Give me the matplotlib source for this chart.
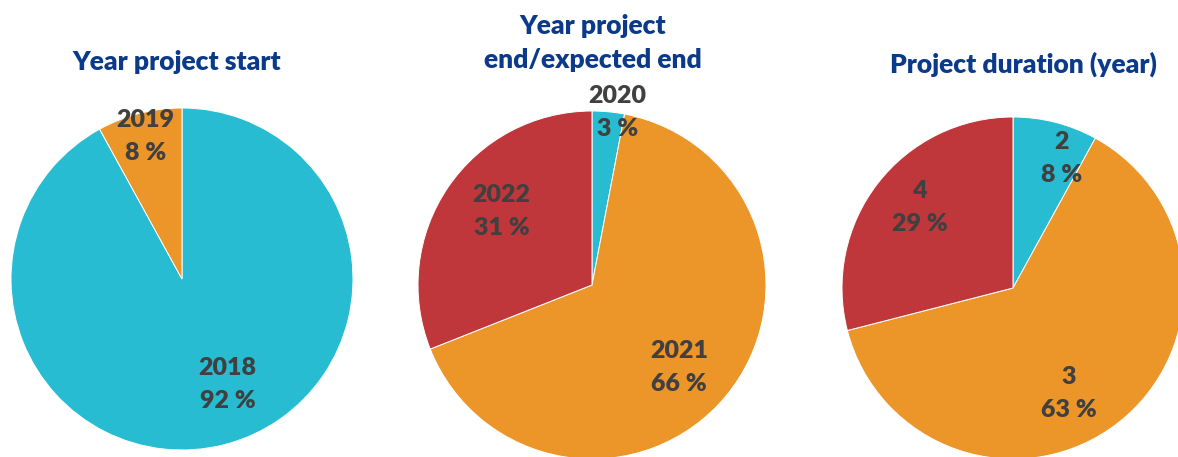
import numpy as np
import matplotlib.pyplot as plt

# data
start_years = ['2018', '2019']
start_share = [92, 8]

end_years = ['2020', '2021', '2022']
end_share = [3, 66, 31]

durations = ['2', '3', '4']
duration_share = [8, 63, 29]

titles = ['Year project start', 'Year project\nend/expected end', 'Project duration (year)']

CYAN = '#27BCD1'
ORANGE = '#EC9528'
RED = '#BF373B'
TITLE_BLUE = '#0B3A8B'
LABEL_GREY = '#404040'

W, H = 1178, 457
fig = plt.figure(figsize=(W / 100, H / 100), dpi=100)
ax = fig.add_axes([0, 0, 1, 1])

plt.rcParams['font.family'] = ['Lato', 'DejaVu Sans']

# (values, labels, colours, centre px, radius px, label distance, angle nudge, title pos)
pies = [
    (start_share, start_years, [CYAN, ORANGE], (182, H - 279), 171,
     [0.67, 0.86], [9, 0], (177, H - 62)),
    (end_share, end_years, [CYAN, ORANGE, RED], (592, H - 285), 174,
     [1.0, 0.69, 0.67], [-3, -4, -5], (593, H - 43)),
    (duration_share, durations, [CYAN, ORANGE, RED], (1013, H - 288), 171,
     [0.81, 0.70, 0.72], [-6, -10, -3], (1023, H - 64)),
]

for (vals, labs, cols, centre, radius, dists, nudges, tpos), title in zip(pies, titles):
    wedges, _ = ax.pie(vals, colors=cols, startangle=90, counterclock=False,
                       center=centre, radius=radius,
                       wedgeprops=dict(edgecolor='white', linewidth=0.7))
    for w, lab, v, d, n in zip(wedges, labs, vals, dists, nudges):
        mid = np.deg2rad((w.theta1 + w.theta2) / 2 + n)
        x = centre[0] + d * radius * np.cos(mid)
        y = centre[1] + d * radius * np.sin(mid)
        ax.text(x, y, f'{lab}\n{v} %', ha='center', va='center',
                fontsize=18, fontweight='heavy', color=LABEL_GREY,
                linespacing=1.6)
    ax.text(tpos[0], tpos[1], title, ha='center', va='center',
            fontsize=19, fontweight='heavy', color=TITLE_BLUE, linespacing=1.45)

ax.set_xlim(0, W)
ax.set_ylim(0, H)
ax.set_aspect('auto')
ax.axis('off')

fig.savefig('out.png', dpi=100)
